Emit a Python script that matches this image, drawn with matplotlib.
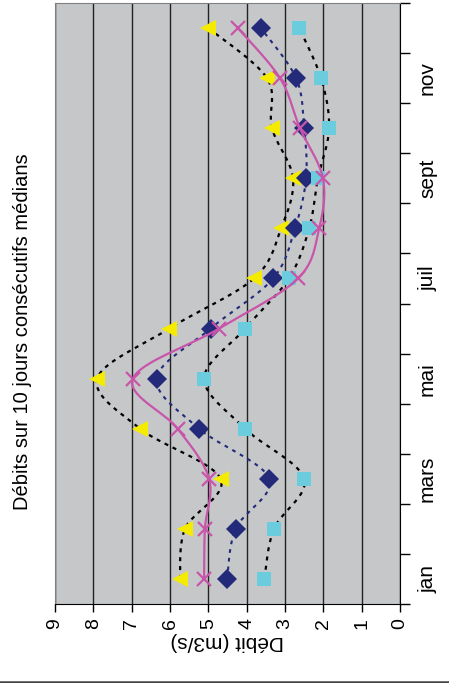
import numpy as np
import matplotlib
matplotlib.use('Agg')
import matplotlib.pyplot as plt
from matplotlib.lines import Line2D

plt.rcParams['font.family'] = ['Liberation Sans', 'DejaVu Sans']

# donnees (debits en m3/s, de janvier a decembre)
mois = ['jan', 'fev', 'mars', 'avr', 'mai', 'juin', 'juil', 'août', 'sept', 'oct', 'nov', 'dec']
triangles = [5.74, 5.61, 4.68, 6.78, 7.90, 6.02, 3.81, 3.10, 2.79, 3.34, 3.47, 5.00]
losanges = [4.51, 4.29, 3.41, 5.24, 6.35, 4.94, 3.31, 2.74, 2.45, 2.50, 2.71, 3.63]
carres = [3.54, 3.29, 2.50, 4.04, 5.11, 4.04, 2.90, 2.37, 2.14, 1.85, 2.06, 2.63]
croix = [5.11, 5.09, 4.98, 5.80, 6.97, 4.72, 2.66, 2.11, 2.01, 2.61, 3.13, 4.23]


def lisse(x, y, n=20):
    # courbe lissee type Excel (Catmull-Rom)
    p = np.column_stack([x, y]).astype(float)
    p = np.vstack([p[0], p, p[-1]])
    out = []
    t = np.linspace(0, 1, n, endpoint=False)[:, None]
    for i in range(1, len(p) - 2):
        p0, p1, p2, p3 = p[i - 1], p[i], p[i + 1], p[i + 2]
        c = 0.5 * ((2 * p1) + (-p0 + p2) * t + (2 * p0 - 5 * p1 + 4 * p2 - p3) * t ** 2
                   + (-p0 + 3 * p1 - 3 * p2 + p3) * t ** 3)
        out.append(c)
    out.append(p[-2][None, :])
    out = np.vstack(out)
    return out[:, 0], out[:, 1]


fig = plt.figure(figsize=(4.49, 6.83), dpi=100)
ax = fig.add_axes([55 / 449, 1 - 604 / 683, 345 / 449, 601 / 683])
ax.set_facecolor('#c6c7c9')

idx = np.arange(len(mois))

series = [
    (triangles, '<', '#f5eb00', 'black', (0, (1.8, 2.2)), 1.6, 12),
    (losanges, 'D', '#232a7a', '#232a7a', (0, (1.8, 2.4)), 1.5, 10),
    (carres, 's', '#6accdc', 'black', (0, (1.8, 2.4)), 1.6, 10.5),
]
for vals, mk, col, lcol, ls, lw, ms in series:
    xs, ys = lisse(vals, idx)
    ax.plot(xs, ys, color=lcol, linestyle=ls, lw=lw, zorder=3)
    ax.plot(vals, idx, linestyle='none', marker=mk, color=col, ms=ms, mew=0, zorder=4)

xs, ys = lisse(croix, idx)
ax.plot(xs, ys, color='#c855aa', lw=1.6, zorder=5)
ax.plot(croix, idx, linestyle='none', marker='x', color='#c855aa', ms=10.5, mew=1.6, zorder=6)

ax.set_xlim(9, 0)
ax.set_ylim(-0.5, 11.5)

# axe des debits (en bas)
ax.set_xticks(range(0, 10))
ax.set_xticklabels([str(v) for v in range(0, 10)], rotation=90, fontsize=14)
ax.tick_params(axis='x', direction='out', length=6, width=1, color='black', pad=4)
ax.grid(axis='x', color='#222222', lw=1)
ax.set_axisbelow(True)
ax.set_xlabel('Débit (m3/s)', rotation=180, fontsize=15, labelpad=2)

# axe des mois (a droite)
ax.yaxis.tick_right()
ax.set_yticks(np.arange(-0.5, 12, 1))
ax.set_yticklabels([])
ax.set_yticks(idx[::2], minor=True)
ax.set_yticklabels(mois[::2], minor=True, rotation=90, va='center', fontsize=15)
ax.tick_params(axis='y', which='major', direction='out', length=7, width=1, color='black')
ax.tick_params(axis='y', which='minor', length=0, pad=13)

for s in ['top', 'left']:
    ax.spines[s].set_color('#808080')
for s in ['bottom', 'right']:
    ax.spines[s].set_color('black')

fig.text(0.049, 0.515, 'Débits sur 10 jours consécutifs médians', rotation=90,
         ha='center', va='center', fontsize=14.5)

fig.add_artist(Line2D([0, 1], [1.5 / 683, 1.5 / 683], color='#444444', lw=1.8,
                      transform=fig.transFigure))

fig.savefig('out.png', dpi=100)
